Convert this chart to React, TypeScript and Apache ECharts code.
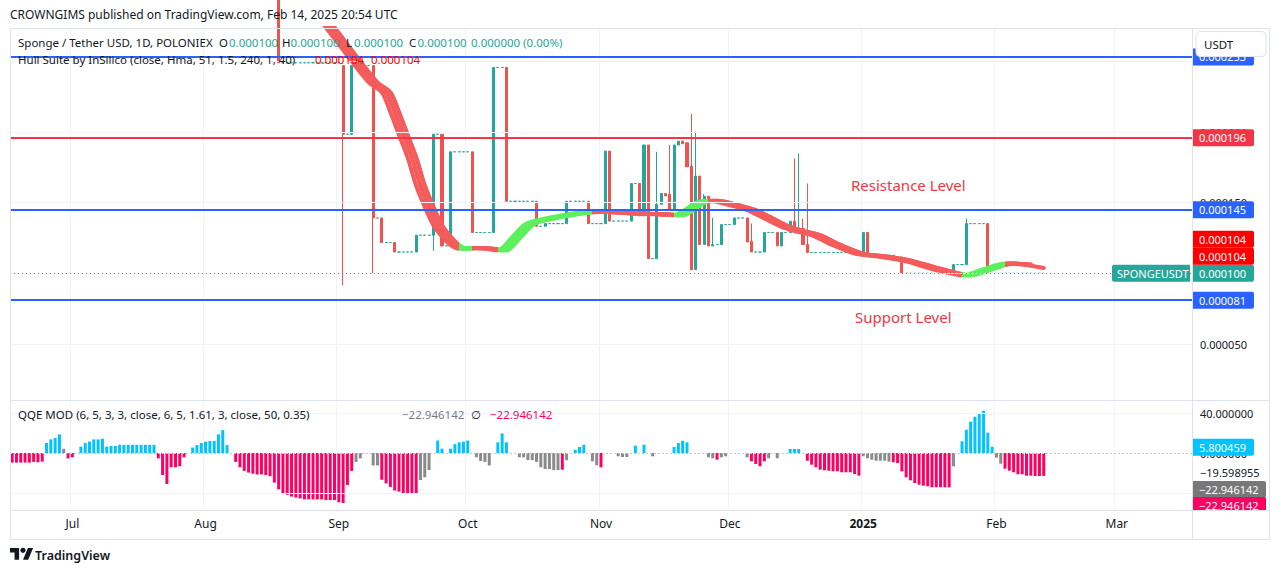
import React, { useEffect, useRef } from "react";
import * as echarts from "echarts";

const FONT = '"Noto Sans", "DejaVu Sans", sans-serif';

// ---------- categories (daily) ----------
const START_UTC = Date.UTC(2024, 5, 17);
const DAY_COUNT = 275;
const dates: string[] = Array.from({ length: DAY_COUNT }, (_, i) =>
  new Date(START_UTC + i * 86400000).toISOString().slice(0, 10)
);
const monthNames = ["2025", "Feb", "Mar", "Apr", "May", "Jun", "Jul", "Aug", "Sep", "Oct", "Nov", "Dec"];

// ---------- candles: [open, close, low, high] in 1e-6 USDT, first row = 2024-08-18 ----------
const FIRST_CANDLE_DATE = "2024-08-18";
const candles: number[][] = [
  [300, 249, 249, 300],
  [249, 249, 249, 249], [249, 249, 249, 249], [249, 249, 249, 249], [249, 249, 249, 249], [249, 249, 249, 249],
  [249, 249, 249, 249], [249, 249, 249, 249], [249, 249, 249, 249], [249, 249, 249, 249], [249, 249, 249, 249],
  [249, 249, 249, 249], [249, 249, 249, 249], [249, 249, 249, 249], [249, 249, 249, 249],
  [247, 198.4, 91.5, 247],
  [198.4, 198.4, 198.4, 198.4],
  [198.4, 247, 198.4, 247],
  [247, 247, 247, 247], [247, 247, 247, 247], [247, 247, 247, 247], [247, 247, 247, 247],
  [247, 139.2, 100, 247],
  [139.2, 139.2, 139.2, 139.2],
  [139.2, 121.8, 121.8, 139.2],
  [121.8, 121.8, 121.8, 121.8], [121.8, 121.8, 121.8, 121.8],
  [121.8, 115.1, 115.1, 121.8],
  [115.1, 115.1, 115.1, 115.1], [115.1, 115.1, 115.1, 115.1], [115.1, 115.1, 115.1, 115.1], [115.1, 115.1, 115.1, 115.1],
  [115.1, 127, 115.1, 127],
  [127, 127, 127, 127], [127, 127, 127, 127], [127, 127, 127, 127],
  [127, 198.4, 116, 198.4],
  [198.4, 198.4, 198.4, 198.4],
  [198.4, 119.4, 119.4, 198.4],
  [119.4, 119.4, 119.4, 119.4],
  [119.4, 186, 119.4, 186],
  [186, 186, 186, 186], [186, 186, 186, 186], [186, 186, 186, 186], [186, 186, 186, 186],
  [186, 128.9, 128.9, 186],
  [128.9, 128.9, 128.9, 128.9], [128.9, 128.9, 128.9, 128.9], [128.9, 128.9, 128.9, 128.9], [128.9, 128.9, 128.9, 128.9],
  [128.9, 245.7, 128.9, 245.7],
  [245.7, 245.7, 245.7, 245.7], [245.7, 245.7, 245.7, 245.7],
  [245.7, 151, 151, 245.7],
  [151, 151, 151, 151], [151, 151, 151, 151], [151, 151, 151, 151], [151, 151, 151, 151], [151, 151, 151, 151], [151, 151, 151, 151],
  [151, 133.3, 133.3, 151],
  [133.3, 133.3, 133.3, 133.3],
  [133.3, 135.2, 133.3, 135.2],
  [135.2, 135.2, 135.2, 135.2], [135.2, 135.2, 135.2, 135.2], [135.2, 135.2, 135.2, 135.2], [135.2, 135.2, 135.2, 135.2],
  [135.2, 151, 135.2, 151],
  [151, 151, 151, 151], [151, 151, 151, 151], [151, 151, 151, 151], [151, 151, 151, 151],
  [151, 135.2, 135.2, 151],
  [135.2, 135.2, 135.2, 135.2], [135.2, 135.2, 135.2, 135.2], [135.2, 135.2, 135.2, 135.2],
  [135.2, 186.5, 135.2, 186.5],
  [186.5, 137, 137, 186.5],
  [137, 137, 137, 137], [137, 137, 137, 137], [137, 137, 137, 137], [137, 137, 137, 137],
  [137, 163.6, 137, 163.6],
  [163.6, 163.6, 163.6, 163.6],
  [163.6, 140.7, 140.7, 163.6],
  [140.7, 190.8, 140.7, 190.8],
  [190.8, 110.4, 110.4, 190.8],
  [110.4, 110.4, 110.4, 110.4],
  [110.4, 148.9, 110.4, 186],
  [148.9, 156.5, 148.9, 156.5],
  [156.5, 154.8, 154.8, 156.5],
  [156, 145.4, 145.4, 190.8],
  [145.4, 190.8, 145.4, 190.8],
  [190.8, 193.6, 190.8, 193.6],
  [193.6, 191.7, 191.7, 193.6],
  [192.4, 175.4, 175.4, 192.4],
  [175.9, 102.6, 102.6, 212.8],
  [102.6, 168.8, 102.6, 200.2],
  [168.8, 120.4, 120.4, 168.8],
  [120.4, 154.6, 120.4, 156],
  [154.6, 119.4, 119.4, 154.6],
  [119.4, 120.4, 119.4, 139.2],
  [120.4, 120.4, 120.4, 120.4],
  [120.4, 134.5, 120.4, 134.5],
  [134.5, 134.5, 134.5, 134.5], [134.5, 134.5, 134.5, 134.5],
  [134.5, 139.2, 134.5, 139.2],
  [139.2, 139.2, 139.2, 139.2], [139.2, 139.2, 139.2, 139.2],
  [139.2, 122.2, 122.2, 139.2],
  [122.7, 115.1, 115.1, 135.3],
  [115.1, 115.1, 115.1, 115.1], [115.1, 115.1, 115.1, 115.1],
  [115.1, 128.9, 115.1, 128.9],
  [128.9, 128.9, 128.9, 128.9], [128.9, 128.9, 128.9, 128.9],
  [128.9, 119.4, 119.4, 128.9],
  [119.4, 128.9, 119.4, 128.9],
  [128.9, 128.9, 128.9, 128.9],
  [128.9, 136.9, 128.9, 136.9],
  [136.9, 131.7, 131.7, 181.3],
  [131.7, 131.9, 131.7, 184.9],
  [131.7, 120.4, 120.4, 138.8],
  [120.4, 114.7, 114.7, 163.6],
  [114.7, 114.7, 114.7, 114.7], [114.7, 114.7, 114.7, 114.7], [114.7, 114.7, 114.7, 114.7], [114.7, 114.7, 114.7, 114.7],
  [114.7, 114.7, 114.7, 114.7], [114.7, 114.7, 114.7, 114.7], [114.7, 114.7, 114.7, 114.7], [114.7, 114.7, 114.7, 114.7],
  [114.7, 114.7, 114.7, 114.7], [114.7, 114.7, 114.7, 114.7], [114.7, 114.7, 114.7, 114.7], [114.7, 114.7, 114.7, 114.7],
  [114.7, 128.9, 114.7, 128.9],
  [128.9, 112.8, 112.8, 128.9],
  [112.8, 112.8, 112.8, 112.8], [112.8, 112.8, 112.8, 112.8], [112.8, 112.8, 112.8, 112.8], [112.8, 112.8, 112.8, 112.8], [112.8, 112.8, 112.8, 112.8],
  [112.8, 111.6, 111.6, 112.8],
  [111.6, 111.6, 111.6, 111.6],
  [111.6, 100, 100, 111.6],
  [100, 100, 100, 100], [100, 100, 100, 100], [100, 100, 100, 100], [100, 100, 100, 100], [100, 100, 100, 100], [100, 100, 100, 100],
  [100, 100, 100, 100], [100, 100, 100, 100], [100, 100, 100, 100], [100, 100, 100, 100], [100, 100, 100, 100],
  [100, 106.2, 100, 106.2],
  [106.2, 106.2, 106.2, 106.2], [106.2, 106.2, 106.2, 106.2],
  [106.2, 135.2, 106.2, 138.8],
  [135.2, 135.2, 135.2, 135.2], [135.2, 135.2, 135.2, 135.2], [135.2, 135.2, 135.2, 135.2], [135.2, 135.2, 135.2, 135.2],
  [135.2, 100, 100, 135.2],
  [100, 100, 100, 100], [100, 100, 100, 100], [100, 100, 100, 100], [100, 100, 100, 100], [100, 100, 100, 100], [100, 100, 100, 100], [100, 100, 100, 100],
  [100, 100, 100, 100], [100, 100, 100, 100], [100, 100, 100, 100], [100, 100, 100, 100], [100, 100, 100, 100], [100, 100, 100, 100],
];

// ---------- Hull Suite (day index, value 1e-6) ----------
const hullPoints: number[][] = [
  [67, 300], [70, 286], [73, 274], [79, 250], [83, 235], [86, 228], [88, 214], [90, 198], [92, 182],
  [94, 162], [96, 147], [98, 134], [100, 126], [102, 120], [104, 117.5], [107, 118], [110, 117.5],
  [113, 116.3], [116, 124.6], [119, 134], [121, 136.8], [124, 138.8], [128, 141.1], [134, 143.5],
  [138, 143.5], [144, 142.3], [151, 141.7], [154, 141.1], [157, 145.9], [159, 149.9], [162, 151.3],
  [167, 148.2], [171, 144.7], [175, 138.8], [179, 132.9], [182, 130], [186, 127], [190, 121.1],
  [196, 114], [201, 112.1], [207, 109.2], [213, 104], [218, 100.2], [221, 98.6], [224, 100.9],
  [227, 104], [231, 106.9], [235, 106.2], [240, 103.8],
];
const hullTurns = [104, 107, 113, 135, 154, 162, 221, 231]; // falling first, then alternating
const hullBandOffsets = [0, 0.5, 1, 1.5, 2];
const hullLastValue = 104;

// ---------- levels ----------
const levels = [
  { value: 253.1, color: "#2962ff" },
  { value: 196, color: "#f23645" },
  { value: 145, color: "#2962ff" },
  { value: 81, color: "#2962ff" },
];
const priceGrid = [50, 100, 150, 200, 250];
const priceTickLabels = [50, 150, 200];
const lastPrice = 100;

// ---------- QQE MOD histogram runs: [kind, values] ----------
const qqeRuns: [string, number[]][] = [
  ["p", [-9.6, -9.6, -9.6, -9.6, -9.6, -8.9, -9.3, -8.6]],
  ["c", [10, 13.6, 15, 18.6]],
  ["g", [4.3]],
  ["p", [-5.4, -4.3]],
  ["z", [0]],
  ["c", [6.4, 10, 11.4, 13.6, 13.6, 14.3, 6.4, 7.1, 7.1, 8.2, 8.2, 8.2, 8.2, 8.2, 8.2, 8.2, 8.2, 8.2]],
  ["p", [-5.4, -22, -31, -14.3, -14.3, -13.2, -4.3]],
  ["z", [0]],
  ["c", [5.4, 7.9, 10, 11.4, 12.1, 12.1, 18.6, 22.9, 7.9]],
  ["z", [0]],
  ["p", [-8.9, -14.3, -17.9, -19.6, -20.7, -21.4, -21.4, -22.1, -23.2, -29.6, -36.4, -40, -41.8, -43.6,
    -44.6, -45.4, -46.4, -46.4, -46.4, -46.4, -46.4, -47.1, -47.1, -47.1, -49.3, -50, -32, -17.9]],
  ["g", [-8.9, -5.4]],
  ["z", [0, 0]],
  ["g", [-12.5, -12.5]],
  ["p", [-26.8, -30.4, -33.9, -37.5, -38.6, -40, -40, -41, -41]],
  ["g", [-27, -24.3, -17]],
  ["z", [0]],
  ["c", [12.5, 4.3]],
  ["z", [0]],
  ["c", [4.3, 8.9, 10.7, 11.4, 12.5]],
  ["z", [0]],
  ["g", [-4.3, -7.9, -8.9, -12.5]],
  ["z", [0]],
  ["c", [10.7, 19.6, 10.7]],
  ["z", [0, 0]],
  ["g", [-4.3, -4.3, -7.1, -7.1, -8.9, -14.3, -16, -16, -17.1, -17.1]],
  ["p", [-16.7]],
  ["g", [-7.3]],
  ["z", [0]],
  ["c", [3.3, 6, 8.3]],
  ["z", [0]],
  ["g", [-8.3, -12.3]],
  ["p", [-14.3]],
  ["z", [0, 0, 0]],
  ["g", [-3.3, -4, -4]],
  ["z", [0]],
  ["c", [7.3]],
  ["z", [0]],
  ["c", [8.3]],
  ["z", [0]],
  ["g", [-3.3]],
  ["z", [0, 0, 0, 0]],
  ["c", [6, 10, 12.3, 10.7]],
  ["z", [0, 0, 0, 0]],
  ["g", [-4.3, -5.3]],
  ["p", [-6.7]],
  ["g", [-4.3, -3.3]],
  ["z", [0, 0, 0, 0]],
  ["g", [-4.3]],
  ["p", [-8.3, -11, -13.3, -8.3]],
  ["g", [-5.3]],
  ["z", [0]],
  ["g", [-5.3]],
  ["z", [0, 0]],
  ["c", [4, 4, 4]],
  ["z", [0]],
  ["p", [-7.7, -11.7, -14.3, -16.7, -17.3, -17.7, -18.3, -18.3, -19.3, -19.3, -19.3, -21, -22.7]],
  ["g", [-3.3, -5.3, -6.7, -7.7, -7.7, -7.7, -8.7]],
  ["p", [-9.3, -10, -18.3, -24.3, -27.3, -30, -31.7, -32.7, -33.3, -34.3, -34.3, -34.3, -34.3, -34.3]],
  ["g", [-13.3]],
  ["z", [0]],
  ["c", [11.7, 23.3, 31.3, 36.3, 40, 42.3, 20.3, 6.3]],
  ["g", [-4.7, -10.7]],
  ["p", [-15.7, -17.7, -19.3, -21.3, -21.3, -22.7, -22.7, -23, -23, -22.9]],
];
const qqeGrid = [40, -40];
const qqeTickLabels = [40];
const qqeLineValue = 5.800459;
const qqeOtherValue = -19.598955;
const qqeHistValue = -22.946142;

// ---------- styles ----------
const UP = "#26a69a";
const DOWN = "#ef5350";
const HULL_DOWN = "#f45c5c";
const HULL_UP = "#5df05d";
const QQE_COLORS: Record<string, string> = { c: "#00c3ff", p: "#ff0062", g: "#8b8b8b", z: "#8b8b8b" };

const LOGO_D = "M14 22H7V11H0V4h14v18zM28 22h-8l7.5-18h8L28 22z";
echarts.graphic.registerShape("tvlogo", echarts.graphic.extendPath(LOGO_D, {}));

const fmtPrice = (v: number) => (v * 1e-6).toFixed(6);
const fmtQqe = (v: number) => v.toFixed(6).replace("-", "\u2212");
const isMonthStart = (_: number, value: string) => value.slice(8, 10) === "01";

function buildOption() {
  const firstIdx = dates.indexOf(FIRST_CANDLE_DATE);
  const candleData: any[] = dates.map(() => "-");
  candles.forEach((c, k) => {
    candleData[firstIdx + k] = c;
  });
  const lastIdx = firstIdx + candles.length - 1;

  const qqeData: any[] = [];
  qqeRuns.forEach(([kind, vals]) =>
    vals.forEach((v) => qqeData.push({ value: v, itemStyle: { color: QQE_COLORS[kind] } }))
  );

  const pieces: any[] = [];
  let prev = -Infinity;
  hullTurns.concat([Infinity]).forEach((t, k) => {
    const p: any = { color: k % 2 === 0 ? HULL_DOWN : HULL_UP };
    if (prev !== -Infinity) p.gte = prev;
    if (t !== Infinity) p.lt = t;
    pieces.push(p);
    prev = t;
  });

  const hullSeries = hullBandOffsets.map((off) => ({
    type: "line",
    xAxisIndex: 0,
    yAxisIndex: 0,
    z: 3,
    silent: true,
    smooth: 0.3,
    showSymbol: false,
    symbol: "none",
    clip: true,
    lineStyle: { width: 4, cap: "round", join: "round" },
    data: hullPoints.map(([x, y]) => [x + off, y]).filter(([x]) => x <= lastIdx),
  }));
  const hullSeriesIdx = hullSeries.map((_, k) => 3 + k);

  const gridLineStyle = { color: "#f0f3fa", width: 1, type: "solid" };

  return {
    animation: false,
    backgroundColor: "#ffffff",
    grid: [
      { left: 10, top: 28, width: 1182, height: 372 },
      { left: 10, top: 400, width: 1182, height: 110 },
    ],
    xAxis: [
      {
        type: "category",
        gridIndex: 0,
        data: dates,
        boundaryGap: true,
        axisLine: { show: false },
        axisTick: { show: false },
        axisLabel: { show: false },
        splitLine: { show: true, interval: isMonthStart, lineStyle: gridLineStyle },
      },
      {
        type: "category",
        gridIndex: 1,
        data: dates,
        boundaryGap: true,
        axisLine: { show: false },
        axisTick: { show: false },
        splitLine: { show: true, interval: isMonthStart, lineStyle: gridLineStyle },
        axisLabel: {
          show: true,
          interval: isMonthStart,
          margin: 7,
          color: "#131722",
          fontSize: 12,
          fontFamily: FONT,
          formatter: (value: string) => {
            const m = parseInt(value.slice(5, 7), 10) - 1;
            return m === 0 ? "{y|" + monthNames[0] + "}" : monthNames[m];
          },
          rich: { y: { fontWeight: "bold", fontSize: 12, fontFamily: FONT, color: "#131722" } },
        },
      },
    ],
    yAxis: [
      { type: "value", gridIndex: 0, min: 10.4, max: 273.6, show: false },
      { type: "value", gridIndex: 1, min: -57, max: 53, show: false },
    ],
    visualMap: [
      {
        type: "piecewise",
        show: false,
        dimension: 0,
        seriesIndex: hullSeriesIdx,
        pieces,
      },
    ],
    series: [
      {
        type: "line",
        xAxisIndex: 0,
        yAxisIndex: 0,
        data: [],
        z: 1,
        silent: true,
        markLine: {
          silent: true,
          symbol: ["none", "none"],
          label: { show: false },
          lineStyle: gridLineStyle,
          data: priceGrid.map((v) => ({ yAxis: v })),
        },
      },
      {
        type: "line",
        xAxisIndex: 1,
        yAxisIndex: 1,
        data: [],
        z: 1,
        silent: true,
        markLine: {
          silent: true,
          symbol: ["none", "none"],
          label: { show: false },
          data: [
            ...qqeGrid.map((v) => ({ yAxis: v, lineStyle: gridLineStyle })),
            { yAxis: 0, lineStyle: { color: "#c4c6cc", width: 1, type: [2, 2] } },
          ],
        },
      },
      {
        type: "candlestick",
        xAxisIndex: 0,
        yAxisIndex: 0,
        z: 2,
        silent: true,
        clip: true,
        barWidth: 2.6,
        itemStyle: {
          color: UP,
          color0: DOWN,
          borderColor: UP,
          borderColor0: DOWN,
          borderColorDoji: UP,
          borderWidth: 1,
        },
        data: candleData,
      },
      ...hullSeries,
      {
        type: "line",
        xAxisIndex: 0,
        yAxisIndex: 0,
        data: [],
        z: 6,
        silent: true,
        markLine: {
          silent: true,
          symbol: ["none", "none"],
          label: { show: false },
          data: [
            ...levels.map((l) => ({ yAxis: l.value, lineStyle: { color: l.color, width: 2, type: "solid" } })),
            { yAxis: lastPrice, lineStyle: { color: UP, width: 1, type: [1, 3] } },
          ],
        },
      },
      {
        type: "bar",
        xAxisIndex: 1,
        yAxisIndex: 1,
        z: 2,
        silent: true,
        barWidth: 3,
        data: qqeData,
      },
    ],
  };
}

function text(x: number, y: number, t: string, o: any = {}) {
  return {
    type: "text",
    x,
    y,
    z: o.z ?? 100,
    silent: true,
    style: {
      text: t,
      fill: o.color ?? "#131722",
      font: `${o.weight ?? "normal"} ${o.size ?? 12}px ${FONT}`,
      textAlign: o.align ?? "left",
      textVerticalAlign: "middle",
      verticalAlign: "middle",
    },
  };
}

function box(x: number, y: number, w: number, t: string, bg: string, z = 110, r: number[] = [0, 2, 2, 0], pad = 7) {
  return [
    { type: "rect", z, silent: true, shape: { x, y: y - 8.5, width: w, height: 17, r }, style: { fill: bg } },
    text(x + pad, y, t, { color: "#ffffff", size: 11, z: z + 1 }),
  ];
}

function buildGraphic(chart: any) {
  const y0 = (v: number) => chart.convertToPixel({ yAxisIndex: 0 }, v);
  const y1 = (v: number) => chart.convertToPixel({ yAxisIndex: 1 }, v);
  const els: any[] = [];
  const border = "#e0e3eb";

  // header
  els.push(text(10, 14, "CROWNGIMS published on TradingView.com, Feb 14, 2025 20:54 UTC", { size: 12 }));

  // legend line 1
  els.push(text(18, 42, "Sponge / Tether USD, 1D, POLONIEX", { size: 11.5 }));
  const ohlc: [string, number, number][] = [["O", 219, 229], ["H", 282, 290.5], ["L", 346, 354], ["C", 409, 417.5]];
  ohlc.forEach(([k, xk, xv]) => {
    els.push(text(xk, 42, k, { size: 11.5 }));
    els.push(text(xv, 42, fmtPrice(lastPrice), { size: 11.5, color: UP }));
  });
  els.push(text(471, 42, "0.000000 (0.00%)", { size: 11.5, color: UP }));

  // legend line 2
  els.push(text(18, 59, "Hull Suite by InSilico (close, Hma, 51, 1.5, 240, 1, 40)", { size: 11.5 }));
  els.push(text(315, 59, fmtPrice(hullLastValue), { size: 11.5, color: "#ff0000" }));
  els.push(text(371, 59, fmtPrice(hullLastValue), { size: 11.5, color: "#ff0000" }));

  // QQE legend
  els.push(text(18, 414, "QQE MOD (6, 5, 3, 3, close, 6, 5, 1.61, 3, close, 50, 0.35)", { size: 11.5 }));
  els.push(text(402, 414, fmtQqe(qqeHistValue), { size: 11.5, color: "#787b86" }));
  els.push(text(471, 414, "\u2205", { size: 11.5, color: "#131722" }));
  els.push(text(490, 414, fmtQqe(qqeHistValue), { size: 11.5, color: "#ff0062" }));

  // annotations
  els.push(text(851, 185, "Resistance Level", { size: 15, color: "#f23645" }));
  els.push(text(855, 317, "Support Level", { size: 15, color: "#f23645" }));

  // price scale plain labels (partly hidden by boxes, as in TradingView)
  priceTickLabels.forEach((v) => els.push(text(1200, y0(v), fmtPrice(v), { size: 11, z: 105 })));
  // level boxes
  levels.forEach((l) => els.push(...box(1192, y0(l.value), 62, fmtPrice(l.value), l.color)));
  const yLast = y0(lastPrice);
  els.push(...box(1192, yLast, 62, fmtPrice(lastPrice), UP));
  els.push(...box(1112, yLast, 78, "SPONGEUSDT", UP, 110, [2, 0, 0, 2], 5));
  els.push(...box(1192, yLast - 17, 62, fmtPrice(hullLastValue), "#ff0000"));
  els.push(...box(1192, yLast - 34, 62, fmtPrice(hullLastValue), "#ff0000"));

  // QQE scale
  qqeTickLabels.forEach((v) => els.push(text(1200, y1(v), fmtQqe(v), { size: 11, z: 105 })));
  els.push(text(1200, y1(0), fmtQqe(0), { size: 11, z: 105 }));
  els.push(text(1200, y1(qqeOtherValue), fmtQqe(qqeOtherValue), { size: 11, z: 105 }));
  els.push(...box(1192, y1(qqeLineValue), 62, fmtQqe(qqeLineValue), "#00c3ff"));
  const yOther = y1(qqeOtherValue);
  els.push(...box(1192, yOther + 17, 74, fmtQqe(qqeHistValue), "#787878"));
  els.push(...box(1192, yOther + 33, 74, fmtQqe(qqeHistValue), "#ff0062"));

  // cover time-axis corner
  els.push({ type: "rect", z: 125, silent: true, shape: { x: 1193, y: 511, width: 76, height: 28.5 }, style: { fill: "#ffffff" } });

  // USDT currency box
  els.push({
    type: "rect", z: 140, silent: true,
    shape: { x: 1196, y: 31.5, width: 70, height: 25, r: 4 },
    style: { fill: "#ffffff", stroke: border, lineWidth: 1 },
  });
  els.push(text(1204, 44, "USDT", { size: 11.5, z: 141 }));

  // frame lines
  const line = (x1: number, y1_: number, x2: number, y2: number) => ({
    type: "line", z: 130, silent: true,
    shape: { x1, y1: y1_, x2, y2 },
    style: { stroke: border, lineWidth: 1 },
  });
  els.push(line(10.5, 28.5, 1269.5, 28.5));
  els.push(line(10.5, 28.5, 10.5, 539.5));
  els.push(line(1269.5, 28.5, 1269.5, 539.5));
  els.push(line(10.5, 539.5, 1269.5, 539.5));
  els.push(line(1192.5, 28.5, 1192.5, 539.5));
  els.push(line(10.5, 400.5, 1269.5, 400.5));
  els.push(line(10.5, 510.5, 1269.5, 510.5));

  // footer logo
  const s = 0.65;
  els.push({ type: "tvlogo", x: 10, y: 548 - 4 * s, scaleX: s, scaleY: s, z: 100, silent: true, style: { fill: "#131722" } });
  els.push({ type: "circle", z: 100, silent: true, shape: { cx: 10 + 20 * s, cy: 548 - 4 * s + 7.5 * s, r: 4 * s }, style: { fill: "#131722" } });
  els.push(text(35, 555, "TradingView", { size: 12.5, weight: 600 }));

  return els;
}

export default function App() {
  const ref = useRef<HTMLDivElement>(null);
  useEffect(() => {
    const chart = echarts.init(ref.current as HTMLDivElement, null, { renderer: "svg" });
    chart.setOption(buildOption() as any);
    chart.setOption({ graphic: { elements: buildGraphic(chart) } } as any);
    return () => chart.dispose();
  }, []);
  return (
    <div
      ref={ref}
      style={{ position: "fixed", left: 0, top: 0, width: 1281, height: 573, background: "#ffffff" }}
    />
  );
}
